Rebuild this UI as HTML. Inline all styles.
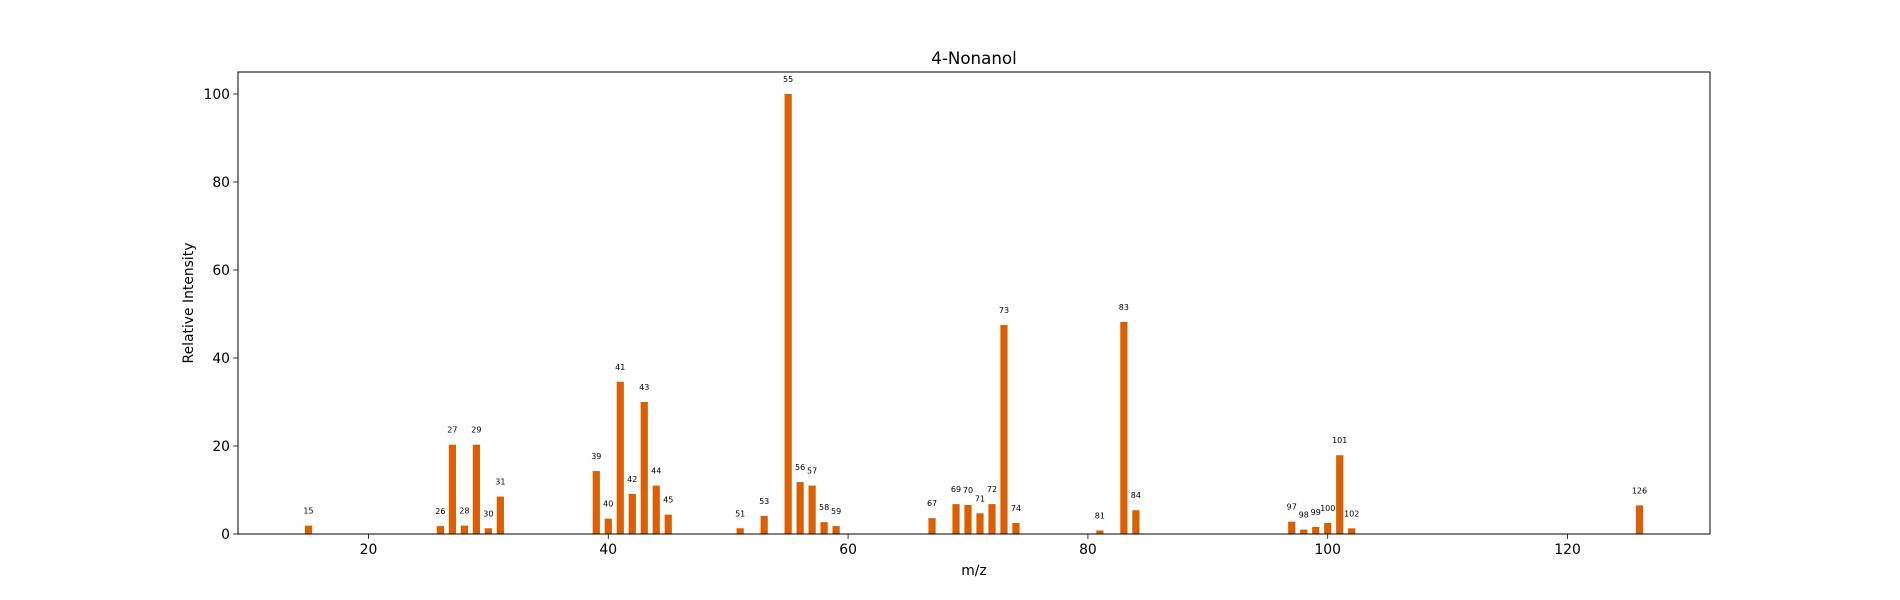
<!DOCTYPE html>
<html><head><meta charset="utf-8"><style>
html,body{margin:0;padding:0;background:#fff;}
svg{display:block;font-family:"DejaVu Sans","Liberation Sans",sans-serif;}
</style></head><body>
<svg id="chart" width="1900" height="600" viewBox="0 0 1900 600"></svg>
<script>
const mzValues = [15,26,27,28,29,30,31,39,40,41,42,43,44,45,51,53,55,56,57,58,59,67,69,70,71,72,73,74,81,83,84,97,98,99,100,101,102,126];
const intensities = [1.9,1.8,20.3,1.9,20.3,1.3,8.5,14.3,3.5,34.6,9.1,30,11,4.4,1.3,4.1,100,11.8,11,2.7,1.8,3.6,6.8,6.6,4.7,6.8,47.5,2.5,0.8,48.2,5.4,2.8,1.0,1.6,2.5,17.9,1.3,6.5];
const xTicks = [20,40,60,80,100,120];
const yTicks = [0,20,40,60,80,100];

const NS = "http://www.w3.org/2000/svg";
const svg = document.getElementById('chart');
const L=238,R=1710,T=72,B=534;
const xMin=9.12,xMax=131.88,yMax=105;
const xs=v=>L+(v-xMin)/(xMax-xMin)*(R-L);
const ys=v=>B-v/yMax*(B-T);
function mk(tag,attrs,text){const e=document.createElementNS(NS,tag);for(const k in attrs)e.setAttribute(k,attrs[k]);if(text!==undefined)e.textContent=text;svg.appendChild(e);return e;}

mzValues.forEach((m,i)=>{
  const v=intensities[i];
  const x0=xs(m-0.3),x1=xs(m+0.3);
  const b=mk('rect',{x:x0,y:ys(v),width:x1-x0,height:B-ys(v),fill:'#d95f02'});
  
  
  const t=mk('text',{x:xs(m),y:ys(v)-12,'font-size':'8','text-anchor':'middle',fill:'#000'},String(m));
  
  
});

const frame=mk('rect',{x:L,y:T,width:R-L,height:B-T,fill:'none',stroke:'#000','stroke-width':1});



xTicks.forEach(v=>{
  const x=xs(v);
  const l=mk('line',{x1:x,x2:x,y1:B,y2:B+4.9,stroke:'#000','stroke-width':0.8});
  
  
  const t=mk('text',{x:x,y:B+20,'font-size':'13.9','text-anchor':'middle'},String(v));
  
  
});
yTicks.forEach(v=>{
  const y=ys(v);
  const l=mk('line',{x1:L-4.9,x2:L,y1:y,y2:y,stroke:'#000','stroke-width':0.8});
  
  
  const t=mk('text',{x:L-8,y:y+5,'font-size':'13.9','text-anchor':'end'},String(v));
  
  
});
</script>
<svg style="position:absolute;left:0;top:0" width="1900" height="600">
<text x="974" y="64" font-size="16.7" text-anchor="middle" font-family="DejaVu Sans, Liberation Sans, sans-serif">4-Nonanol</text>
<text x="974" y="575" font-size="13.9" text-anchor="middle" font-family="DejaVu Sans, Liberation Sans, sans-serif">m/z</text>
<text x="0" y="0" font-size="13.9" text-anchor="middle" font-family="DejaVu Sans, Liberation Sans, sans-serif" transform="translate(193,303) rotate(-90)">Relative Intensity</text>
</svg>
</body></html>
